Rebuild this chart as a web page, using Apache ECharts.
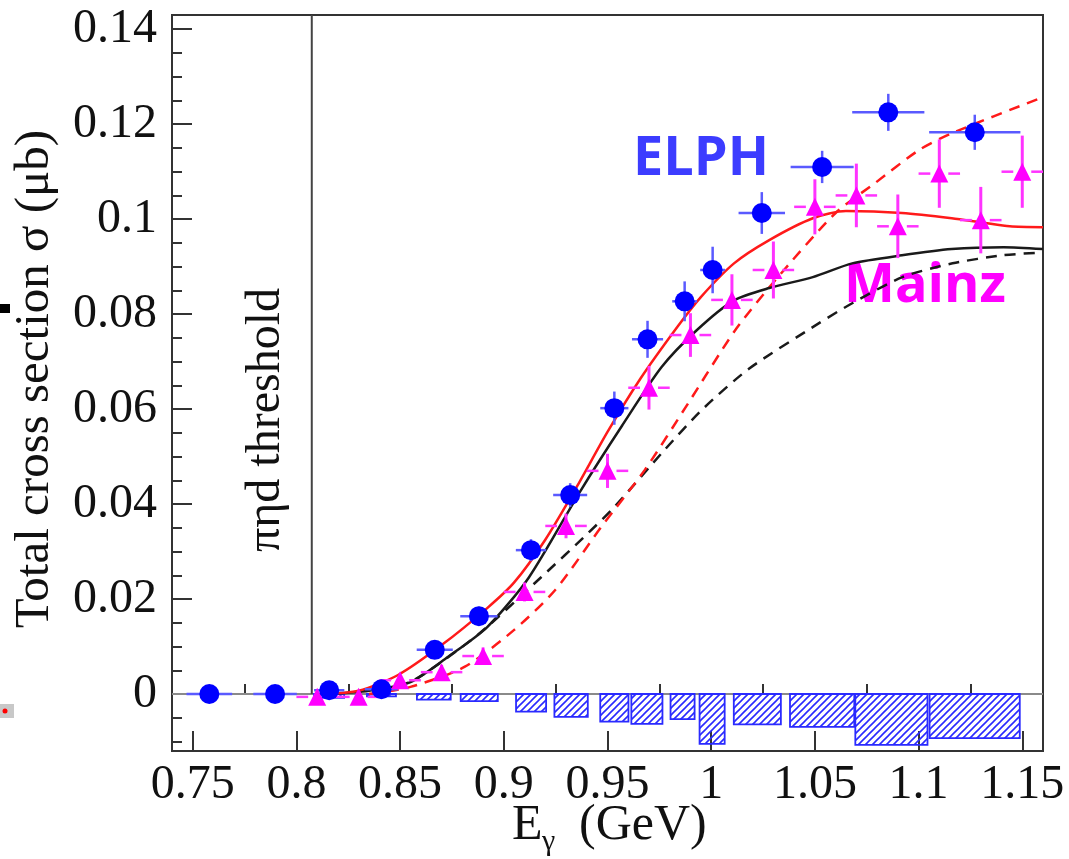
<!DOCTYPE html>
<html>
<head>
<meta charset="utf-8">
<script src="https://cdn.jsdelivr.net/npm/echarts@6/dist/echarts.min.js"></script>
<style>
  html, body { margin: 0; padding: 0; background: #fff; }
  #chart { width: 1069px; height: 859px; }
</style>
</head>
<body>
<div id="chart"></div>
<script>
// ELPH points (blue circles)
var elphX    = [0.758, 0.7897, 0.8158, 0.841, 0.8667, 0.888, 0.9131, 0.932, 0.9533, 0.9693, 0.9872, 1.0007, 1.0244, 1.0535, 1.0854, 1.1271];
var elphY    = [0, 0, 0.0008, 0.001, 0.0093, 0.0164, 0.0303, 0.0419, 0.0602, 0.0747, 0.0827, 0.0893, 0.1013, 0.111, 0.1225, 0.1183];
var elphXErr = [0.011, 0.0105, 0.0073, 0.008, 0.0087, 0.009, 0.0073, 0.0082, 0.0068, 0.0075, 0.006, 0.006, 0.0112, 0.0152, 0.0174, 0.022];
var elphYErr = [0.0005, 0.0005, 0.001, 0.001, 0.0018, 0.002, 0.0023, 0.0025, 0.0035, 0.0039, 0.0042, 0.0049, 0.0044, 0.0034, 0.0039, 0.0037];

// Mainz points (magenta triangles)
var mainzX    = [0.81, 0.83, 0.85, 0.87, 0.89, 0.91, 0.93, 0.95, 0.97, 0.99, 1.01, 1.03, 1.05, 1.07, 1.09, 1.11, 1.13, 1.15];
var mainzY    = [-0.0006, -0.0006, 0.0029, 0.0046, 0.008, 0.0215, 0.0354, 0.047, 0.0645, 0.0756, 0.083, 0.0893, 0.1026, 0.105, 0.0985, 0.1096, 0.0998, 0.11];
var mainzXErr = [0.01, 0.01, 0.01, 0.01, 0.01, 0.01, 0.01, 0.01, 0.01, 0.01, 0.01, 0.01, 0.01, 0.01, 0.01, 0.01, 0.01, 0.01];
var mainzYErr = [0.0008, 0.0008, 0.001, 0.0015, 0.0018, 0.002, 0.0026, 0.0036, 0.0046, 0.0046, 0.0054, 0.006, 0.0058, 0.0067, 0.0067, 0.0072, 0.007, 0.0076];

// ELPH systematic errors (hatched boxes below zero)
var sysLo    = [0.8085, 0.834, 0.8581, 0.8792, 0.9059, 0.9244, 0.9465, 0.9615, 0.9804, 0.9944, 1.0109, 1.038, 1.0695, 1.1053];
var sysHi    = [0.823, 0.848, 0.8744, 0.8971, 0.9204, 0.9405, 0.9601, 0.9765, 0.992, 1.0065, 1.0336, 1.069, 1.1043, 1.1488];
var sysDepth = [-0.0008, -0.0005, -0.0012, -0.0015, -0.0037, -0.0048, -0.0058, -0.0063, -0.0053, -0.0105, -0.0064, -0.0069, -0.0107, -0.0093];

// model curves
var redSolidX = [0.812, 0.83, 0.849, 0.87, 0.892, 0.905, 0.92, 0.935, 0.95, 0.966, 0.984, 0.995, 1.011, 1.028, 1.049, 1.065, 1.092, 1.116, 1.132, 1.144, 1.16];
var redSolidY = [0, 0.0007, 0.004, 0.0103, 0.0181, 0.0235, 0.0325, 0.0435, 0.0552, 0.0665, 0.0775, 0.0836, 0.0907, 0.0956, 0.1002, 0.1017, 0.1013, 0.1002, 0.0992, 0.0985, 0.0983];
var blackSolidX = [0.815, 0.835, 0.855, 0.873, 0.892, 0.912, 0.937, 0.957, 0.976, 0.993, 1.011, 1.028, 1.049, 1.068, 1.092, 1.116, 1.141, 1.16];
var blackSolidY = [0, 0.0007, 0.0025, 0.0078, 0.0141, 0.0245, 0.0428, 0.0565, 0.0688, 0.0766, 0.0829, 0.0855, 0.0878, 0.0907, 0.0924, 0.0937, 0.0941, 0.0937];
var redDashX = [0.835, 0.855, 0.881, 0.905, 0.925, 0.947, 0.968, 0.989, 1.0114, 1.031, 1.06, 1.079, 1.1, 1.116, 1.16];
var redDashY = [0, 0.0015, 0.0057, 0.0135, 0.022, 0.0352, 0.0472, 0.0613, 0.0765, 0.0872, 0.1013, 0.1076, 0.1145, 0.1181, 0.1257];
var blackDashX = [0.84, 0.857, 0.8875, 0.918, 0.9407, 0.9533, 0.9775, 0.9954, 1.0182, 1.052, 1.068, 1.0922, 1.1164, 1.1406, 1.16];
var blackDashY = [0.0005, 0.003, 0.0125, 0.0246, 0.0339, 0.0394, 0.0514, 0.0598, 0.0685, 0.0781, 0.0823, 0.0878, 0.0907, 0.0924, 0.093];

// ticks
var xMajor = [0.75, 0.8, 0.85, 0.9, 0.95, 1, 1.05, 1.1, 1.15];
var xMinor = [0.775, 0.825, 0.875, 0.925, 0.975, 1.025, 1.075, 1.125];
var yMajor = [0, 0.02, 0.04, 0.06, 0.08, 0.1, 0.12, 0.14];
var yMinor = [-0.01, -0.005, 0.005, 0.01, 0.015, 0.025, 0.03, 0.035, 0.045, 0.05, 0.055, 0.065, 0.07, 0.075,
              0.085, 0.09, 0.095, 0.105, 0.11, 0.115, 0.125, 0.13, 0.135];

var threshold = 0.8074;
var xMin = 0.74, xMax = 1.16, yMin = -0.012, yMax = 0.143;

function pairs (xs, ys) {
  return xs.map(function (x, i) { return [x, ys[i]] })
}

// hatch pattern for the systematic boxes
function hatch () {
  var c = document.createElement('canvas')
  c.width = 7
  c.height = 7
  var g = c.getContext('2d')
  g.strokeStyle = '#2a2aff'
  g.lineWidth = 1.6
  g.beginPath()
  g.moveTo(-1, 8); g.lineTo(8, -1)
  g.moveTo(-1, 1); g.lineTo(1, -1)
  g.moveTo(6, 8); g.lineTo(8, 6)
  g.stroke()
  return c
}
var hatchFill = {image: hatch(), repeat: 'repeat'}

var serif = 'Liberation Serif'
var axisCol = '#333'

function curve (xs, ys, color, dashed) {
  return {
    type: 'line',
    data: pairs(xs, ys),
    symbol: 'none',
    smooth: 0.25,
    silent: true,
    z: 4,
    lineStyle: {color: color, width: 2.5, type: dashed ? [11, 8] : 'solid'}
  }
}

var myChart = echarts.init(document.getElementById('chart'))
var option = {
  animation: false,
  backgroundColor: '#fff',
  grid: {
    left: 172, top: 15, right: 26, bottom: 108,
    show: true, borderColor: axisCol, borderWidth: 2, backgroundColor: 'transparent'
  },
  xAxis: [
    {
      type: 'value', min: xMin, max: xMax, position: 'bottom',
      splitLine: {show: false},
      axisLine: {show: true, onZero: false, lineStyle: {color: axisCol, width: 2}},
      axisTick: {inside: true, length: 20, customValues: xMajor, lineStyle: {color: axisCol, width: 2}},
      axisLabel: {customValues: xMajor, margin: 10, fontSize: 48, fontFamily: serif, color: '#111'}
    },
    {
      type: 'value', min: xMin, max: xMax, position: 'bottom',
      splitLine: {show: false},
      axisLine: {show: false},
      axisTick: {inside: true, length: 10, customValues: xMinor, lineStyle: {color: axisCol, width: 2}},
      axisLabel: {show: false}
    }
  ],
  yAxis: [
    {
      type: 'value', min: yMin, max: yMax, position: 'left',
      splitLine: {show: false},
      axisLine: {show: true, onZero: false, lineStyle: {color: axisCol, width: 2}},
      axisTick: {inside: true, length: 20, customValues: yMajor, lineStyle: {color: axisCol, width: 2}},
      axisLabel: {customValues: yMajor, margin: 15, fontSize: 48, fontFamily: serif, color: '#111'}
    },
    {
      type: 'value', min: yMin, max: yMax, position: 'left',
      splitLine: {show: false},
      axisLine: {show: false},
      axisTick: {inside: true, length: 10, customValues: yMinor, lineStyle: {color: axisCol, width: 2}},
      axisLabel: {show: false}
    }
  ],
  series: [
    // zero line
    {
      type: 'line', data: [[xMin, 0], [xMax, 0]], symbol: 'none', silent: true, z: 1,
      lineStyle: {color: '#8a8a8a', width: 2}
    },
    // threshold line
    {
      type: 'line', data: [[threshold, 0], [threshold, yMax]], symbol: 'none', silent: true, z: 1,
      lineStyle: {color: '#444', width: 2}
    },
    // systematic error boxes
    {
      type: 'custom',
      data: sysLo.map(function (lo, i) { return [lo, sysHi[i], sysDepth[i]] }),
      encode: {x: [0, 1], y: 2},
      z: 2,
      renderItem: function (params, api) {
        var a = api.coord([api.value(0), 0])
        var b = api.coord([api.value(1), api.value(2)])
        return {
          type: 'rect',
          shape: {x: a[0], y: a[1], width: b[0] - a[0], height: b[1] - a[1]},
          style: {fill: hatchFill, stroke: '#2a2aff', lineWidth: 1.8}
        }
      }
    },
    curve(blackDashX, blackDashY, '#1a1a1a', true),
    curve(redDashX, redDashY, '#ff1a1a', true),
    curve(blackSolidX, blackSolidY, '#1a1a1a', false),
    curve(redSolidX, redSolidY, '#ff1a1a', false),
    // Mainz error bars
    {
      type: 'custom',
      data: mainzX.map(function (x, i) { return [x, mainzY[i], mainzXErr[i], mainzYErr[i]] }),
      encode: {x: 0, y: 1},
      z: 5,
      renderItem: function (params, api) {
        var x = api.value(0), y = api.value(1), xe = api.value(2), ye = api.value(3)
        var c = api.coord([x, y])
        var l = api.coord([x - xe, y]), r = api.coord([x + xe, y])
        var t = api.coord([x, y + ye]), b = api.coord([x, y - ye])
        var st = {stroke: '#ff33ff', lineWidth: 2.5}
        return {
          type: 'group', children: [
            {type: 'line', shape: {x1: l[0], y1: c[1], x2: c[0] - 9, y2: c[1]}, style: st},
            {type: 'line', shape: {x1: c[0] + 9, y1: c[1], x2: r[0], y2: c[1]}, style: st},
            {type: 'line', shape: {x1: c[0], y1: t[1], x2: c[0], y2: b[1]}, style: {stroke: '#ff33ff', lineWidth: 3}}
          ]
        }
      }
    },
    // ELPH error bars
    {
      type: 'custom',
      data: elphX.map(function (x, i) { return [x, elphY[i], elphXErr[i], elphYErr[i]] }),
      encode: {x: 0, y: 1},
      z: 5,
      renderItem: function (params, api) {
        var x = api.value(0), y = api.value(1), xe = api.value(2), ye = api.value(3)
        var l = api.coord([x - xe, y]), r = api.coord([x + xe, y])
        var t = api.coord([x, y + ye]), b = api.coord([x, y - ye])
        var st = {stroke: '#5a5aff', lineWidth: 2.5}
        return {
          type: 'group', children: [
            {type: 'line', shape: {x1: l[0], y1: l[1], x2: r[0], y2: r[1]}, style: st},
            {type: 'line', shape: {x1: t[0], y1: t[1], x2: b[0], y2: b[1]}, style: st}
          ]
        }
      }
    },
    {
      type: 'scatter', data: pairs(mainzX, mainzY), symbol: 'triangle', symbolSize: 18, z: 6,
      itemStyle: {color: '#ff00ff', opacity: 1}
    },
    {
      type: 'scatter', data: pairs(elphX, elphY), symbol: 'circle', symbolSize: 20, z: 7,
      itemStyle: {color: '#0000ff', opacity: 1}
    }
  ],
  graphic: [
    {
      type: 'text', x: 35, y: 379, rotation: Math.PI / 2,
      style: {text: 'Total cross section σ (μb)', font: '49px "Liberation Serif"', fill: '#111', align: 'center', verticalAlign: 'middle'}
    },
    {
      type: 'text', x: 266, y: 420, rotation: Math.PI / 2,
      style: {text: 'πηd threshold', font: '48px "Liberation Serif"', fill: '#111', align: 'center', verticalAlign: 'middle'}
    },
    {
      type: 'text', x: 512, y: 826,
      style: {text: 'E', font: '50px "Liberation Serif"', fill: '#111', align: 'left', verticalAlign: 'middle'}
    },
    {
      type: 'text', x: 542, y: 842,
      style: {text: 'γ', font: '30px "Liberation Serif"', fill: '#111', align: 'left', verticalAlign: 'middle'}
    },
    {
      type: 'text', x: 579, y: 826,
      style: {text: '(GeV)', font: '50px "Liberation Serif"', fill: '#111', align: 'left', verticalAlign: 'middle'}
    },
    {
      type: 'text', x: 701, y: 160,
      style: {text: 'ELPH', font: 'bold 54px "Open Sans"', fill: '#3c3cff', align: 'center', verticalAlign: 'middle'}
    },
    {
      type: 'text', x: 925, y: 287,
      style: {text: 'Mainz', font: 'bold 54px "Open Sans"', fill: '#ff00ff', align: 'center', verticalAlign: 'middle'}
    },
    // crop leftovers at the left edge
    {type: 'rect', shape: {x: 0, y: 304, width: 10, height: 9}, style: {fill: '#000'}},
    {type: 'rect', shape: {x: 0, y: 704, width: 14, height: 14}, style: {fill: '#c8c8c8'}},
    {type: 'circle', shape: {cx: 5, cy: 711, r: 2.5}, style: {fill: '#ff0000'}}
  ]
}
myChart.setOption(option)
</script>
</body>
</html>
